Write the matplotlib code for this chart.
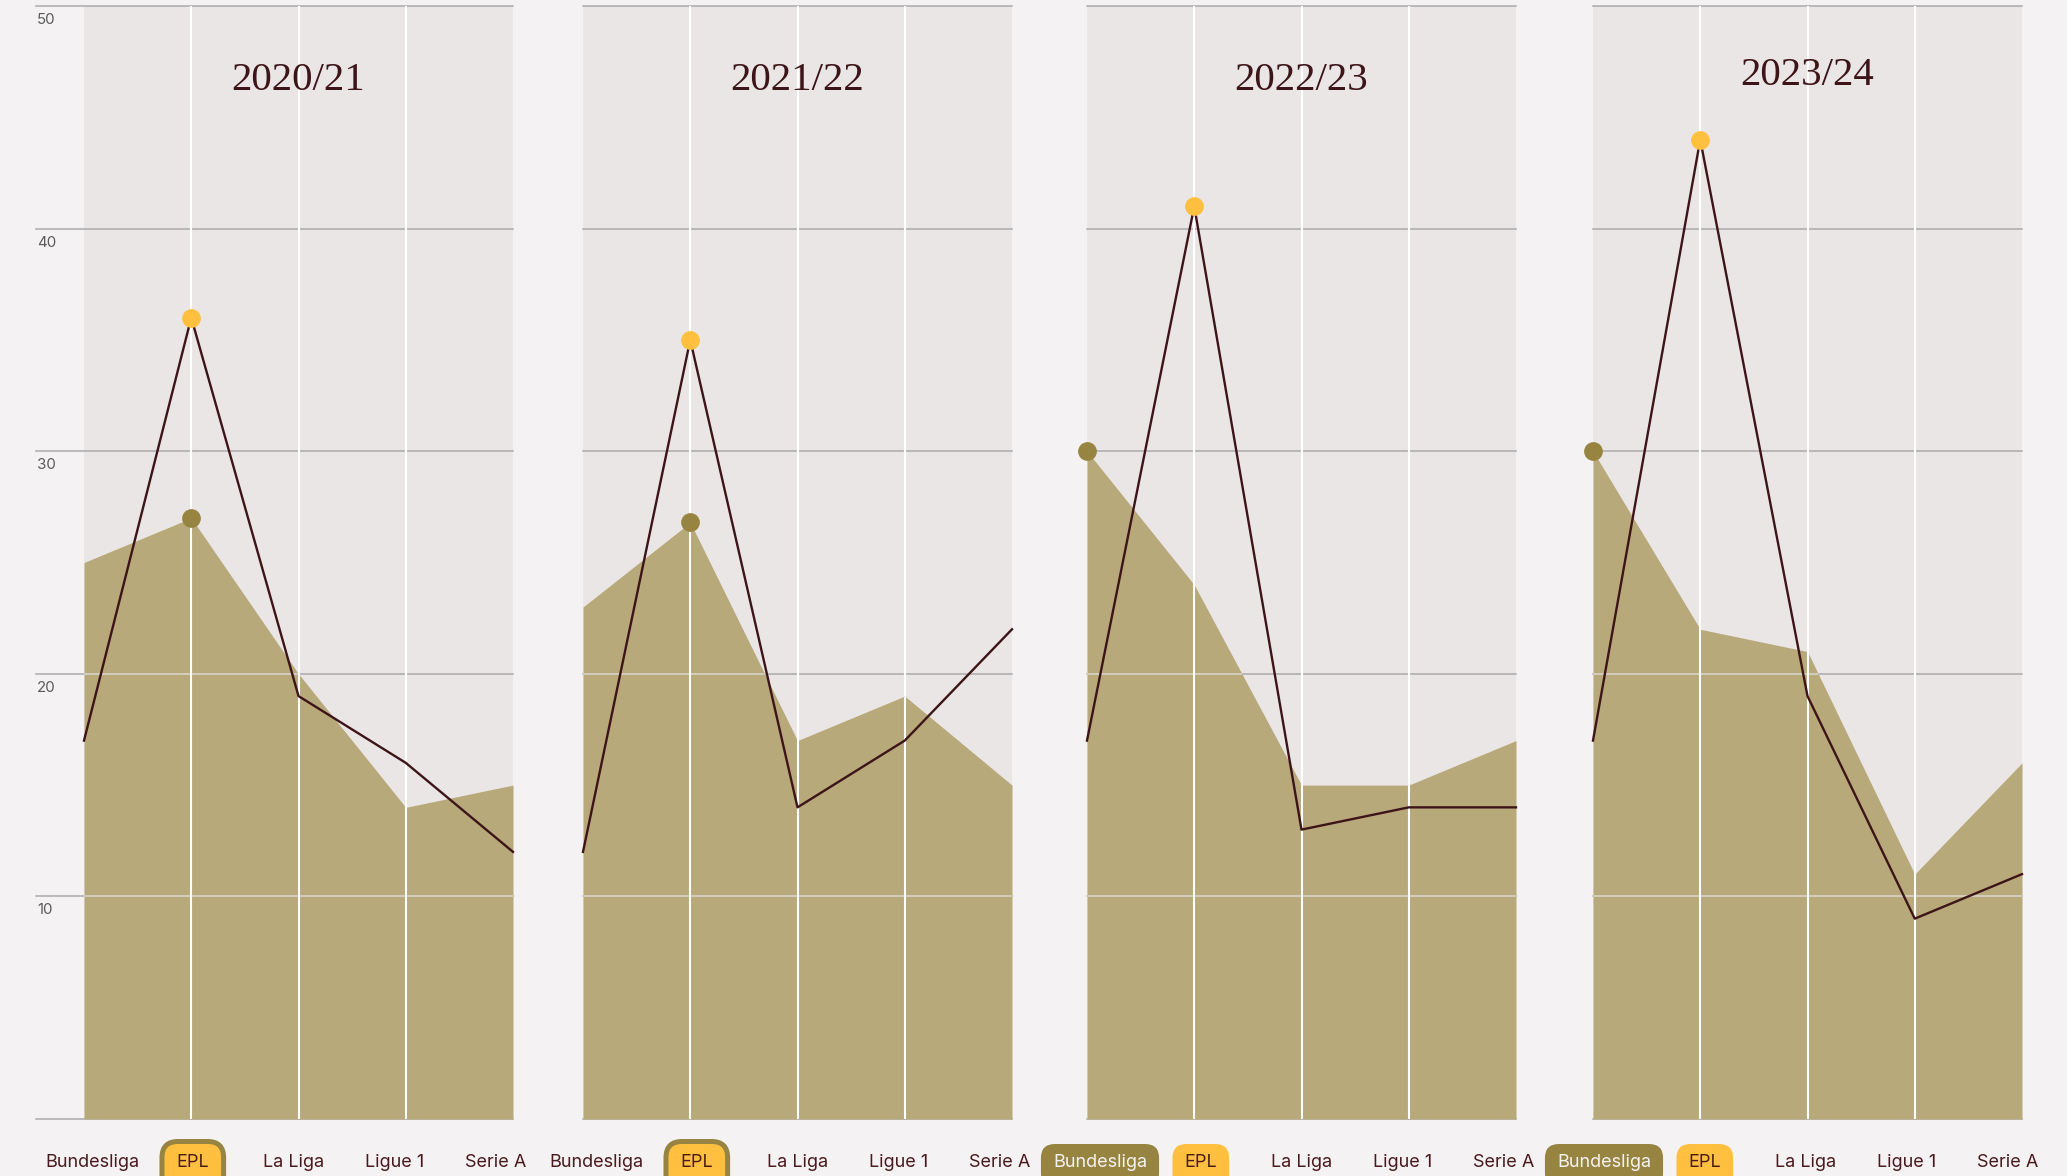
#!/usr/bin/env python3
"""Goals per league across four seasons: area vs line, one panel per season."""

import matplotlib.pyplot as plt
from matplotlib.patches import FancyBboxPatch
from matplotlib.transforms import IdentityTransform

seasons = ["2020/21", "2021/22", "2022/23", "2023/24"]
leagues = ["Bundesliga", "EPL", "La Liga", "Ligue 1", "Serie A"]

area_2020 = [25, 27, 20, 14, 15]
area_2021 = [23, 26.8, 17, 19, 15]
area_2022 = [30, 24, 15, 15, 17]
area_2023 = [30, 22, 21, 11, 16]

line_2020 = [17, 36, 19, 16, 12]
line_2021 = [12, 35, 14, 17, 22]
line_2022 = [17, 41, 13, 14, 14]
line_2023 = [17, 44, 19, 9, 11]

area_values = [area_2020, area_2021, area_2022, area_2023]
line_values = [line_2020, line_2021, line_2022, line_2023]
y_ticks = [10, 20, 30, 40, 50]

BG = "#F4F2F3"
PANEL = "#EAE6E5"
FILL = "#B8A97A"
OLIVE = "#978440"
YELLOW = "#FFBF3F"
MAROON = "#3D1418"
TEXT = "#4A1A1E"
GRID = "#ABABAB"

W, H = 2067, 1176
SANS = ["Inter", "DejaVu Sans"]
SERIF = ["Liberation Serif", "DejaVu Serif"]

# layout in pixels (from the top-left)
panel_left = [84, 583, 1087, 1593]
panel_width = 429
plot_top, plot_bottom = 6, 1119
label_x0, label_step, label_base = 92, 100.8, 1167
title_base = [90, 90, 90, 85]


def main() -> None:
    fig = plt.figure(figsize=(W / 100, H / 100), dpi=100, facecolor=BG)

    highlight = []
    for p, season in enumerate(seasons):
        ax = fig.add_axes([panel_left[p] / W, 1 - plot_bottom / H,
                           panel_width / W, (plot_bottom - plot_top) / H])
        ax.set_facecolor(PANEL)
        for s in ax.spines.values():
            s.set_visible(False)
        ax.set_xticks([])
        ax.set_yticks([])
        ax.set_xlim(0, len(leagues) - 1)
        ax.set_ylim(0, 50)

        x = list(range(len(leagues)))
        area = area_values[p]
        line = line_values[p]

        # grey gridlines (first panel reaches out to the tick labels)
        x_start = (36 - panel_left[0]) / panel_width if p == 0 else 0
        for v in [0] + y_ticks:
            ax.plot([x_start, 1], [v, v], color=GRID, lw=1.1,
                    transform=ax.get_yaxis_transform(), clip_on=False, zorder=1)

        poly = ax.fill_between(x, area, 0, color=FILL, lw=0, zorder=2)
        # lighter gridlines over the filled area
        for v in y_ticks:
            (gl,) = ax.plot([0, 4], [v, v], color="#D4D0C4", lw=1.3, zorder=2.5)
            gl.set_clip_path(poly.get_paths()[0], poly.get_transform())

        for xi in x[1:-1]:
            ax.axvline(xi, color="white", lw=1.5, zorder=3)

        ax.plot(x, line, color=MAROON, lw=1.7, zorder=4, clip_on=False)

        ia = max(range(len(area)), key=lambda i: area[i])
        il = max(range(len(line)), key=lambda i: line[i])
        ax.plot(x[ia], area[ia], "o", ms=13.5, color=OLIVE, mec="none",
                zorder=5, clip_on=False)
        ax.plot(x[il], line[il], "o", ms=13.5, color=YELLOW, mec="none",
                zorder=6, clip_on=False)

        cx = (panel_left[p] + panel_width / 2) / W
        fig.text(cx, 1 - title_base[p] / H, season, ha="center", va="baseline",
                 fontsize=29.5, color=MAROON, family=SERIF)

        if p == 0:
            for v in y_ticks:
                ax.annotate(str(v), xy=(37 / W, v),
                            xycoords=(fig.transFigure, ax.transData),
                            xytext=(0, -7), textcoords="offset pixels",
                            ha="left", va="top", fontsize=10.8,
                            color="#5A5A5A", family=SANS)

        for j, name in enumerate(leagues):
            lx = (label_x0 + label_step * (5 * p + j)) / W
            if j == ia and j == il:
                kind, color = "both", TEXT
            elif j == ia:
                kind, color = "area", BG
            elif j == il:
                kind, color = "line", TEXT
            else:
                kind, color = None, TEXT
            t = fig.text(lx, 1 - label_base / H, name, ha="center",
                         va="baseline", fontsize=13, color=color,
                         family=SANS, zorder=5)
            if kind:
                highlight.append((t, kind))

    # pills behind highlighted league labels (they run off the bottom edge)
    fig.canvas.draw()
    renderer = fig.canvas.get_renderer()
    for t, kind in highlight:
        bb = t.get_window_extent(renderer)
        w = bb.width + 24
        h = 44
        x0 = bb.x0 - 12
        y0 = (H - 1144) - h
        if kind == "both":
            patch = FancyBboxPatch((x0 - 2.5, y0 - 2.5), w + 5, h + 5,
                                   boxstyle="round,pad=0,rounding_size=16",
                                   fc=YELLOW, ec=OLIVE, lw=3.6,
                                   transform=IdentityTransform(), zorder=4)
        else:
            patch = FancyBboxPatch((x0, y0), w, h,
                                   boxstyle="round,pad=0,rounding_size=14",
                                   fc=OLIVE if kind == "area" else YELLOW,
                                   ec="none", transform=IdentityTransform(),
                                   zorder=4)
        fig.add_artist(patch)

    fig.savefig("out.png", dpi=100, facecolor=BG)
    plt.close(fig)


if __name__ == "__main__":
    main()
